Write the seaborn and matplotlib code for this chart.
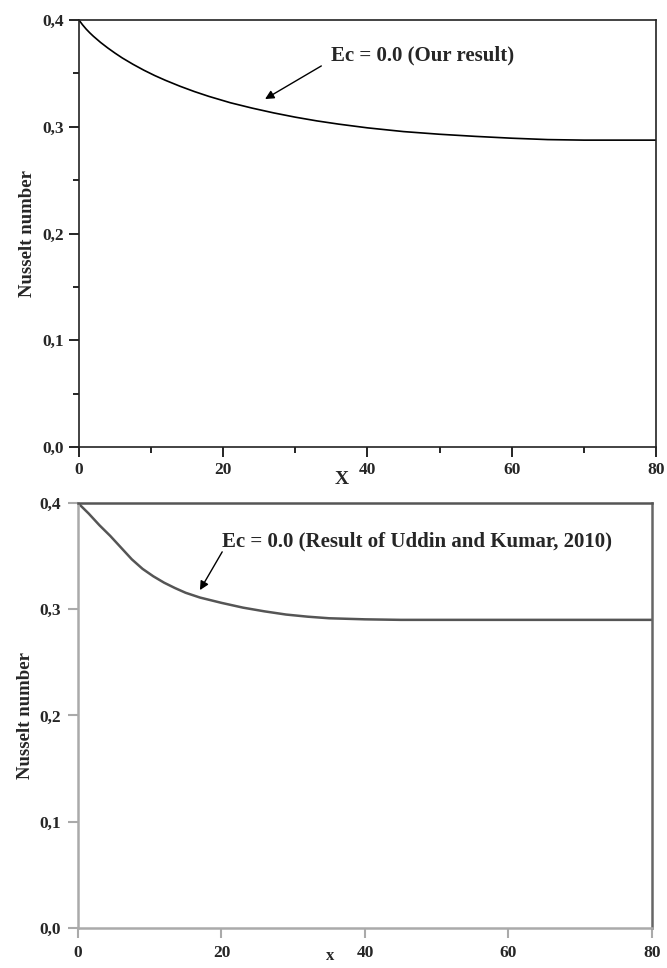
import numpy as np
import pandas as pd
import matplotlib
matplotlib.use("Agg")
import matplotlib.pyplot as plt
import seaborn as sns
from matplotlib.ticker import MultipleLocator, FuncFormatter

# ---- data ----
x_our = [0, 0.5, 1, 1.5, 2, 3, 4, 5, 6, 7.5, 9, 10.5, 12, 14, 16, 18, 21, 24, 27, 30,
         33, 36, 40, 45, 50, 55, 60, 65, 70, 75, 80]
nu_our = [0.400, 0.3955, 0.3915, 0.388, 0.3848, 0.379, 0.3738, 0.369, 0.3645, 0.3585,
          0.353, 0.348, 0.3435, 0.338, 0.333, 0.3285, 0.3225, 0.3175, 0.313, 0.309,
          0.3055, 0.3025, 0.299, 0.2955, 0.293, 0.291, 0.2893, 0.288, 0.2875, 0.2875,
          0.2875]

x_uk = [0, 1.5, 3, 4.5, 6, 7.5, 9, 10.5, 12, 13.5, 15, 17, 20, 23, 26, 29, 32, 35, 40,
        45, 50, 60, 70, 80]
nu_uk = [0.400, 0.390, 0.379, 0.369, 0.358, 0.347, 0.338, 0.331, 0.325, 0.320, 0.3155,
         0.311, 0.306, 0.3015, 0.298, 0.295, 0.293, 0.2915, 0.2905, 0.290, 0.290, 0.290,
         0.290, 0.290]

x_ticks = [0, 20, 40, 60, 80]
y_ticks = [0.0, 0.1, 0.2, 0.3, 0.4]
label_top = "Ec = 0.0 (Our result)"
label_bottom = "Ec = 0.0 (Result of Uddin and Kumar, 2010)"
xlabel_top = "X"
xlabel_bottom = "x"
ylabel = "Nusselt number"

df_our = pd.DataFrame({"x": x_our, "nu": nu_our})
df_uk = pd.DataFrame({"x": x_uk, "nu": nu_uk})

sns.set_style("white")
plt.rcParams["font.family"] = ["Liberation Serif", "DejaVu Serif"]
plt.rcParams["font.weight"] = "bold"

fig = plt.figure(figsize=(6.67, 9.68), dpi=100)
ax1 = fig.add_axes([0.1184, 0.5382, 0.8651, 0.4411])
ax2 = fig.add_axes([0.1169, 0.0413, 0.8606, 0.4391])

comma = FuncFormatter(lambda v, p: f"{v:.1f}".replace(".", ","))
arrow = dict(arrowstyle="-|>", color="black", lw=1.0, mutation_scale=13,
             shrinkA=0, shrinkB=0)

# ---- top panel ----
sns.lineplot(data=df_our, x="x", y="nu", ax=ax1, color="black", linewidth=1.2)
ax1.set_xlim(0, 80)
ax1.set_ylim(0, 0.4)
ax1.set_xticks(x_ticks)
ax1.set_yticks(y_ticks)
ax1.xaxis.set_minor_locator(MultipleLocator(10))
ax1.yaxis.set_minor_locator(MultipleLocator(0.05))
ax1.yaxis.set_major_formatter(comma)
ax1.tick_params(which="major", direction="out", length=7, width=1.2, color="black",
                left=True, bottom=True, top=False, right=False, labelsize=12.5, pad=4)
ax1.tick_params(which="minor", direction="out", length=4, width=1.2, color="black",
                left=True, bottom=True, top=False, right=False)
for lab in ax1.get_xticklabels() + ax1.get_yticklabels():
    lab.set_fontweight("bold")
for s in ax1.spines.values():
    s.set_color("#222222")
    s.set_linewidth(1.2)
ax1.set_xlabel(xlabel_top, fontsize=14, fontweight="bold")
ax1.set_ylabel(ylabel, fontsize=13.5, fontweight="bold")
ax1.xaxis.set_label_coords(0.456, -0.057)
ax1.yaxis.set_label_coords(-0.075, 0.5)
ax1.text(34.9, 0.367, label_top, fontsize=15, fontweight="bold", va="center", ha="left")
ax1.annotate("", xy=(25.8, 0.326), xytext=(33.6, 0.357), arrowprops=arrow)

# ---- bottom panel ----
sns.lineplot(data=df_uk, x="x", y="nu", ax=ax2, color="#555555", linewidth=1.8)
ax2.set_xlim(0, 80)
ax2.set_ylim(0, 0.4)
ax2.set_xticks(x_ticks)
ax2.set_yticks(y_ticks)
ax2.yaxis.set_major_formatter(comma)
ax2.tick_params(which="major", direction="out", length=7, width=1.5, color="#aaaaaa",
                left=True, bottom=True, top=False, right=False, labelsize=12.5, pad=5)
for lab in ax2.get_xticklabels() + ax2.get_yticklabels():
    lab.set_fontweight("bold")
ax2.spines["top"].set_color("#555555")
ax2.spines["right"].set_color("#666666")
ax2.spines["left"].set_color("#aaaaaa")
ax2.spines["bottom"].set_color("#aaaaaa")
for s in ax2.spines.values():
    s.set_linewidth(1.8)
ax2.set_xlabel(xlabel_bottom, fontsize=12, fontweight="bold")
ax2.set_ylabel(ylabel, fontsize=13.5, fontweight="bold")
ax2.xaxis.set_label_coords(0.439, -0.048)
ax2.yaxis.set_label_coords(-0.077, 0.5)
ax2.text(20.1, 0.364, label_bottom, fontsize=15, fontweight="bold", va="center", ha="left")
ax2.annotate("", xy=(17.0, 0.318), xytext=(20.1, 0.354), arrowprops=arrow)

fig.savefig("out.png", dpi=100)
